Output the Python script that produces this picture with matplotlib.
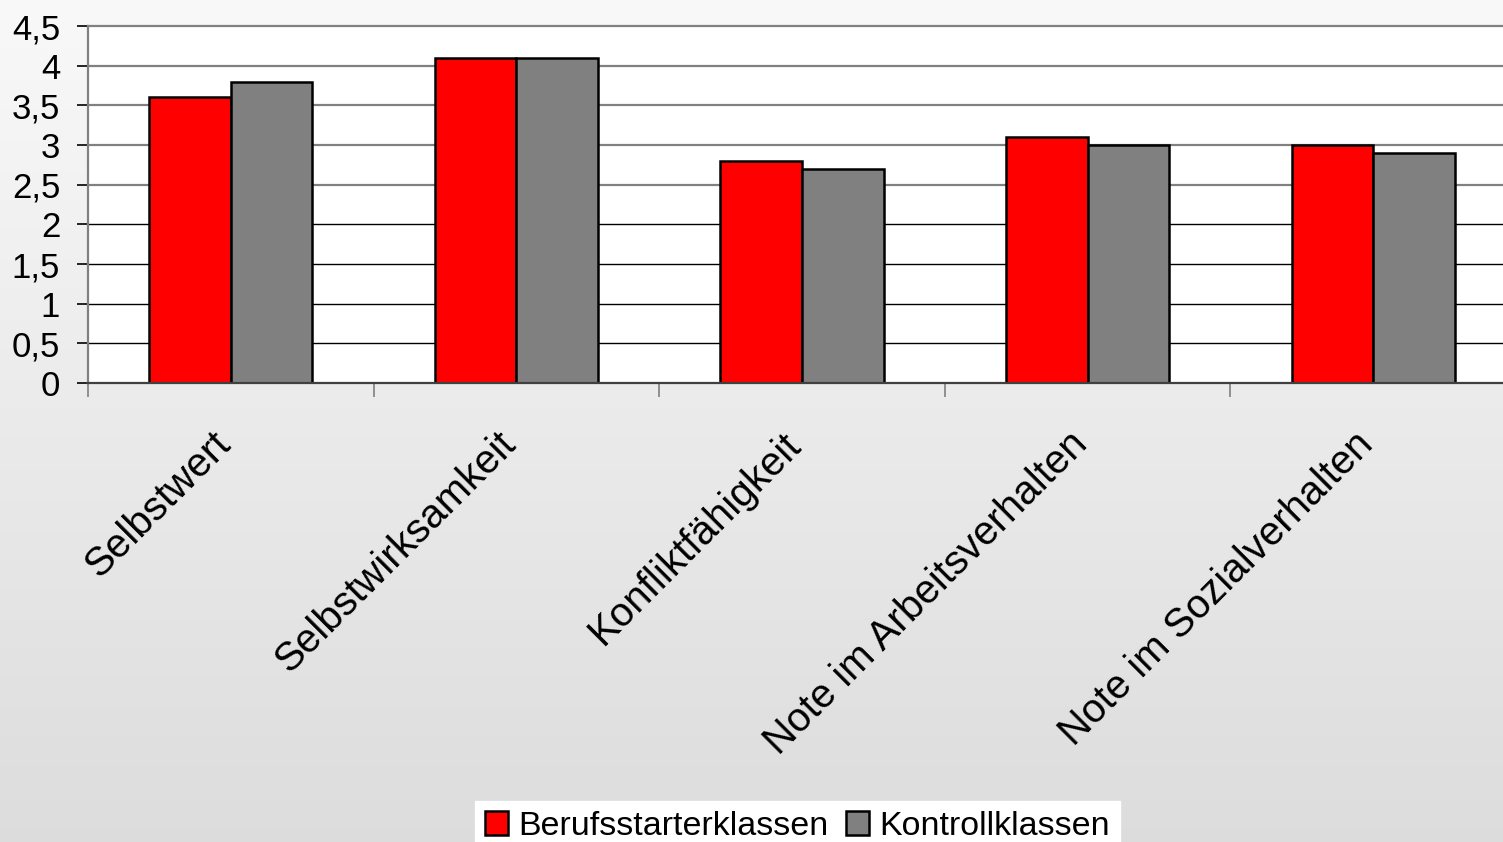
import numpy as np
import matplotlib
matplotlib.use("Agg")
import matplotlib.pyplot as plt
from matplotlib.transforms import offset_copy

categories = ["Selbstwert", "Selbstwirksamkeit", "Konfliktfähigkeit",
              "Note im Arbeitsverhalten", "Note im Sozialverhalten"]
series_names = ["Berufsstarterklassen", "Kontrollklassen"]
berufsstarter = [3.6, 4.1, 2.8, 3.1, 3.0]
kontroll = [3.8, 4.1, 2.7, 3.0, 2.9]
yticks = [0, 0.5, 1, 1.5, 2, 2.5, 3, 3.5, 4, 4.5]
ytick_labels = ["0", "0,5", "1", "1,5", "2", "2,5", "3", "3,5", "4", "4,5"]

plt.rcParams['font.family'] = ['Liberation Sans', 'DejaVu Sans']

W, H = 1503, 842
fig = plt.figure(figsize=(W / 100, H / 100), dpi=100)

# background gradient
bg = fig.add_axes([0, 0, 1, 1], zorder=-10)
grad = np.linspace(0.975, 0.865, 256).reshape(-1, 1)
bg.imshow(np.dstack([grad, grad, grad]), aspect='auto', extent=[0, 1, 0, 1],
          vmin=0, vmax=1)
bg.set_axis_off()

ax = fig.add_axes([88 / W, 1 - 383 / H, (1516 - 88) / W, (383 - 26) / H])
ax.set_facecolor('white')
x = np.arange(len(categories))
bw = 0.286
ax.bar(x - bw / 2, berufsstarter, bw, color='#ff0000', edgecolor='black',
       linewidth=1.8, label=series_names[0], zorder=3)
ax.bar(x + bw / 2, kontroll, bw, color='#808080', edgecolor='black',
       linewidth=1.8, label=series_names[1], zorder=3)

ax.set_xlim(-0.5, len(categories) - 0.5)
ax.set_ylim(0, 4.5)

# gridlines
for v in yticks[1:]:
    col = '#808080' if v >= 2.5 else 'black'
    lw = 1.6 if v >= 2.5 else 1.0
    ax.axhline(v, color=col, lw=lw, zorder=1, clip_on=False)

for s in ['top', 'right']:
    ax.spines[s].set_visible(False)
ax.spines['left'].set_color('#808080')
ax.spines['left'].set_linewidth(1.6)
ax.spines['bottom'].set_color('#404040')
ax.spines['bottom'].set_linewidth(1.6)
ax.spines['bottom'].set_zorder(4)

ax.set_yticks(yticks)
ax.set_yticklabels(ytick_labels, fontsize=25)
ax.tick_params(axis='y', length=8, width=1.2, pad=12)
for t, v in zip(ax.yaxis.get_major_ticks(), yticks):
    t.tick1line.set_color('#808080' if v >= 2.5 else 'black')

ax.set_xticks(np.arange(-0.5, len(categories), 1.0))
ax.set_xticklabels([])
ax.tick_params(axis='x', length=10, width=1.2, color='#808080')

tr = offset_copy(ax.transData, fig=fig, x=-20, y=-42, units='dots')
for xi, lab in zip(x, categories):
    ax.text(xi, 0, lab, transform=tr, rotation=45, rotation_mode='anchor',
            ha='right', va='top', fontsize=29, clip_on=False)

leg = fig.legend(loc='lower left', bbox_to_anchor=(475 / W, -0.012),
                 ncol=2, fontsize=24.5, frameon=True, fancybox=False,
                 handlelength=0.68, handleheight=0.68, handletextpad=0.3,
                 columnspacing=0.5, borderpad=0.3, borderaxespad=0)
leg.get_frame().set_facecolor('white')
leg.get_frame().set_edgecolor('white')
leg.get_frame().set_alpha(1)

fig.savefig('out.png', dpi=100)
